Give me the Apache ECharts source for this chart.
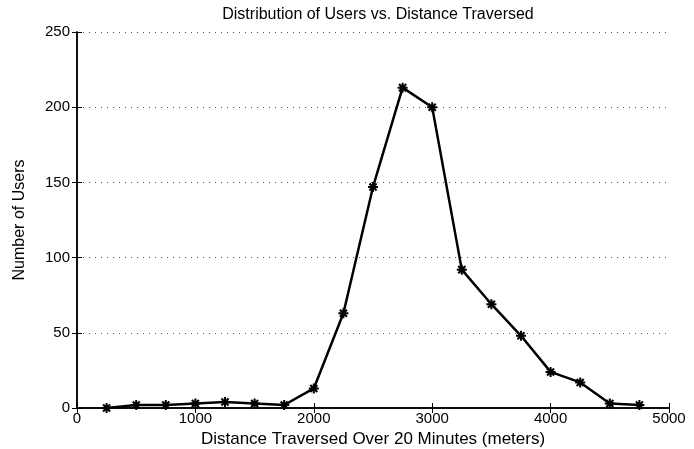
<!DOCTYPE html>
<html>
<head>
<meta charset="utf-8">
<script src="https://cdn.jsdelivr.net/npm/echarts@6/dist/echarts.min.js"></script>
<style>
  html, body { margin: 0; padding: 0; background: #fff; }
  #chart { width: 694px; height: 449px; }
</style>
</head>
<body>
<div id="chart"></div>
<script>
// distance bins (meters) and user counts
const distances = [250, 500, 750, 1000, 1250, 1500, 1750, 2000, 2250, 2500,
  2750, 3000, 3250, 3500, 3750, 4000, 4250, 4500, 4750];
const users = [0, 2, 2, 3, 4, 3, 2, 13, 63, 147,
  213, 200, 92, 69, 48, 24, 17, 3, 2];

const font = "'Liberation Sans', Arial, Helvetica, sans-serif";
// chunky eight-pointed asterisk marker
const starPath = "path://M7.2,0 L10.8,0 L10.8,4.5 L14,1.3 L16.7,4 L13.5,7.2 L18,7.2 L18,10.8 L13.5,10.8 L16.7,14 L14,16.7 L10.8,13.5 L10.8,18 L7.2,18 L7.2,13.5 L4,16.7 L1.3,14 L4.5,10.8 L0,10.8 L0,7.2 L4.5,7.2 L1.3,4 L4,1.3 L7.2,4.5 Z";

const chart = echarts.init(document.getElementById("chart"));

const tickStyle = { show: true, inside: true, length: 5, lineStyle: { color: "#000", width: 1 } };
const plain = v => String(v);

chart.setOption({
  animation: false,
  title: {
    text: "Distribution of Users vs. Distance Traversed",
    left: 373,
    textAlign: "center",
    top: 2,
    textStyle: { fontFamily: font, fontSize: 16, fontWeight: "normal", color: "#000" }
  },
  grid: { left: 77, right: 25, top: 32, bottom: 41, outerBoundsMode: "none", containLabel: false },
  xAxis: [
    {
      type: "value",
      min: 0,
      max: 5000,
      interval: 1000,
      name: "Distance Traversed Over 20 Minutes (meters)",
      nameLocation: "middle",
      nameGap: 23,
      nameTextStyle: { fontFamily: font, fontSize: 17, color: "#000" },
      axisLine: { show: true, lineStyle: { color: "#000", width: 1.5 } },
      axisTick: tickStyle,
      axisLabel: { fontFamily: font, fontSize: 15, color: "#000", margin: 3, formatter: plain },
      splitLine: { show: false }
    },
    {
      type: "value",
      position: "top",
      min: 0,
      max: 5000,
      interval: 1000,
      axisLine: { show: true, lineStyle: { color: "#000", width: 1.5 } },
      axisTick: tickStyle,
      axisLabel: { show: false },
      splitLine: { show: false }
    }
  ],
  yAxis: [
    {
      type: "value",
      min: 0,
      max: 250,
      interval: 50,
      name: "Number of Users",
      nameLocation: "middle",
      nameGap: 49,
      nameTextStyle: { fontFamily: font, fontSize: 16, color: "#000" },
      axisLine: { show: true, lineStyle: { color: "#000", width: 1.5 } },
      axisTick: tickStyle,
      axisLabel: { fontFamily: font, fontSize: 15, color: "#000", margin: 7, formatter: plain },
      splitLine: { show: true, lineStyle: { color: "#555", type: [1, 5], width: 1 } }
    },
    {
      type: "value",
      position: "right",
      min: 0,
      max: 250,
      interval: 50,
      axisLine: { show: true, lineStyle: { color: "#000", width: 1.5 } },
      axisTick: tickStyle,
      axisLabel: { show: false },
      splitLine: { show: false }
    }
  ],
  series: [
    {
      type: "line",
      data: distances.map((d, i) => [d, users[i]]),
      lineStyle: { color: "#000", width: 2.5 },
      itemStyle: { color: "#000" },
      symbol: starPath,
      symbolSize: 10,
      showSymbol: true
    }
  ]
});
</script>
</body>
</html>
